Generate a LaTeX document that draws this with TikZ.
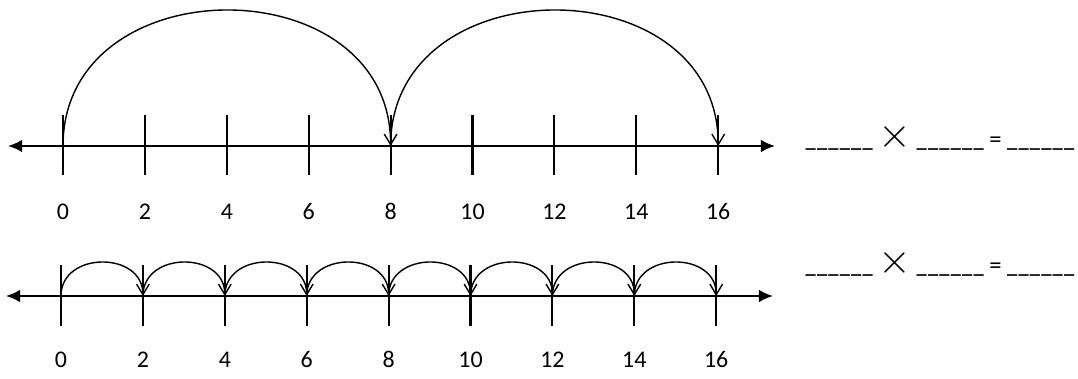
\documentclass[tikz,border=0pt]{standalone}
\usepackage{fontspec}
\setmainfont{Carlito}
\usetikzlibrary{arrows.meta}

\newcommand{\gapline}{{\fontsize{5.8}{6}\selectfont\bfseries\_\kern0.35pt\_\kern0.35pt\_\kern0.35pt\_\kern0.35pt\_\kern0.35pt\_}}

\begin{document}
\begin{tikzpicture}[
    axis/.style={line width=0.6pt, {Latex[length=4pt,width=3.6pt]}-{Latex[length=4pt,width=3.6pt]}},
    tick/.style={line width=0.6pt},
    hop/.style={line width=0.4pt, -{Straight Barb[length=3pt,width=3.6pt]}},
    num/.style={font=\fontsize{6.8}{8}\selectfont, inner sep=0pt, anchor=base},
    blanks/.style={font=\fontsize{7}{8}\selectfont, anchor=base west, inner sep=0pt}
]
\useasboundingbox (0,0) rectangle (10.78,3.79);

% top number line: jumps of 8
\coordinate (aL) at (0.08,2.33);
\coordinate (aR) at (7.75,2.33);
\draw[axis] (aL) -- (aR);
\foreach \i in {0,...,8} {
    \pgfmathtruncatemacro{\n}{2*\i}
    \coordinate (a\n) at (0.63+0.819*\i,2.33);
    \draw[tick] ([yshift=0.31cm]a\n) -- ([yshift=-0.29cm]a\n);
    \node[num, yshift=-0.74cm] (la\n) at (a\n) {\n};
}
\draw[hop] (a0) .. controls +(0,1.81) and +(0,1.81) .. (a8);
\draw[hop] (a8) .. controls +(0,1.81) and +(0,1.81) .. (a16);

% bottom number line: jumps of 2
\coordinate (bL) at (0.06,0.83);
\coordinate (bR) at (7.73,0.83);
\draw[axis] (bL) -- (bR);
\foreach \i in {0,...,8} {
    \pgfmathtruncatemacro{\n}{2*\i}
    \coordinate (b\n) at (0.61+0.819*\i,0.83);
    \draw[tick] ([yshift=0.31cm]b\n) -- ([yshift=-0.30cm]b\n);
    \node[num, yshift=-0.72cm] (lb\n) at (b\n) {\n};
}
\foreach \i [evaluate=\i as \m using int(2*\i), evaluate=\i as \n using int(2*\i+2)] in {0,...,7}
    \draw[hop] (b\m) .. controls +(0,0.45) and +(0,0.45) .. (b\n);

% equations to fill in
\node[blanks] (eqa) at (8.05,2.31) {\gapline\ {\large$\times$} \gapline\ = \gapline};
\node[blanks] (eqb) at (8.05,1.05) {\gapline\ {\large$\times$} \gapline\ = \gapline};
\end{tikzpicture}
\end{document}
